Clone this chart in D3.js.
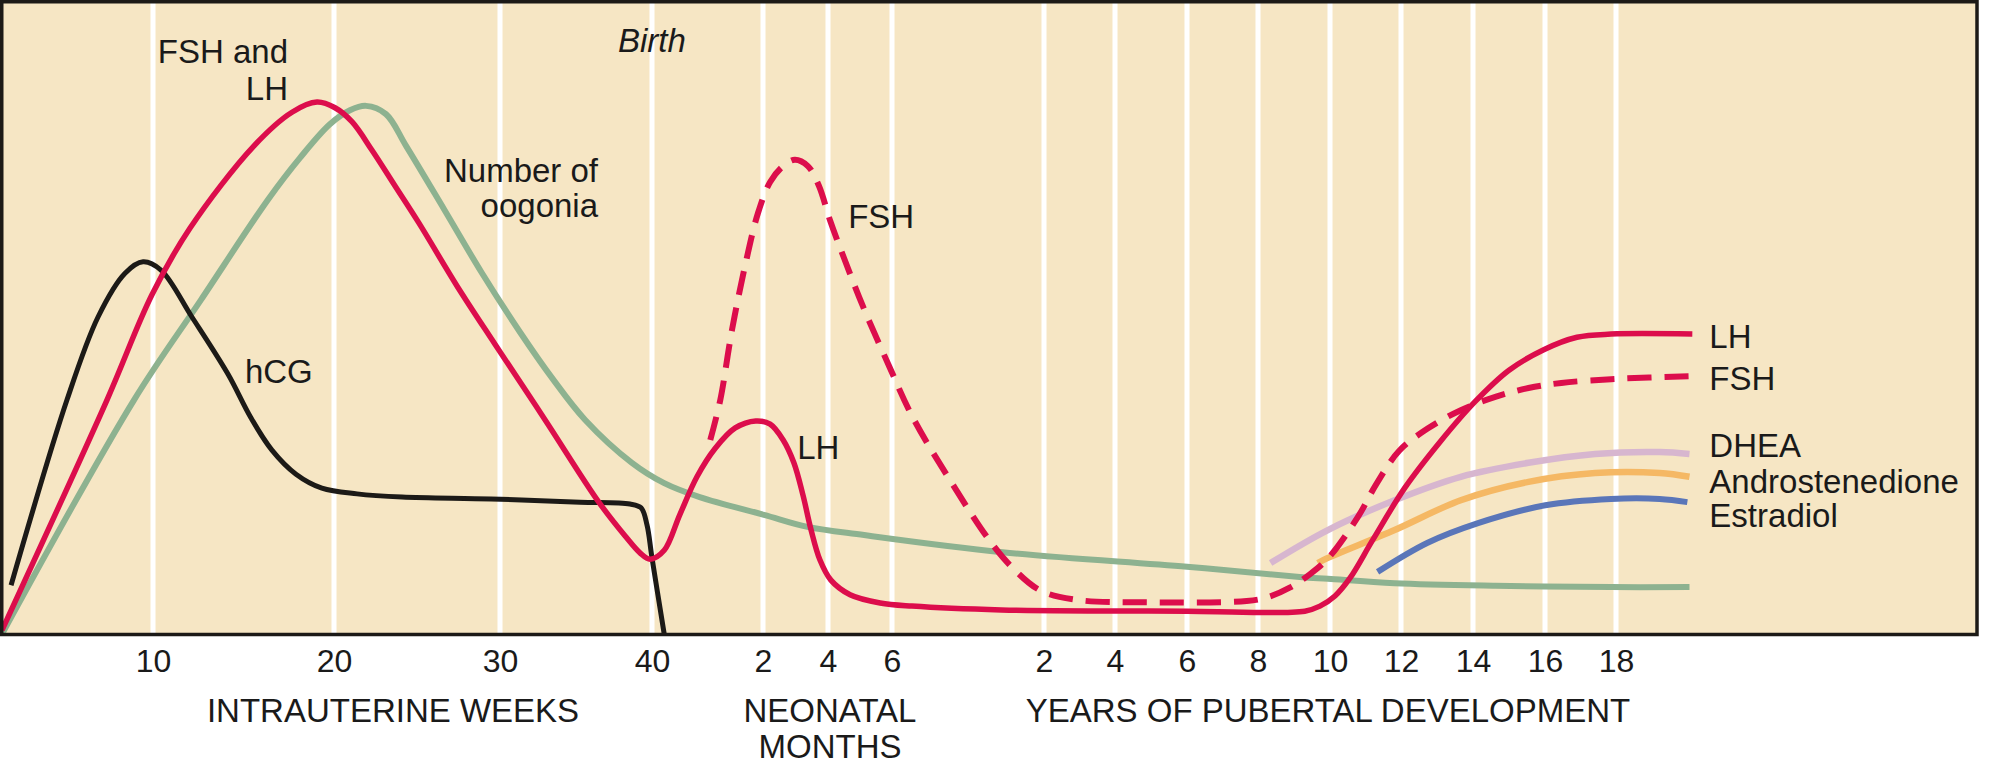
<!DOCTYPE html>
<html>
<head>
<meta charset="utf-8">
<script src="https://cdn.jsdelivr.net/npm/d3@7"></script>
<style>
  body { margin: 0; background: #fff; }
  text { font-family: "Liberation Sans", Arial, sans-serif; fill: #1a1a1a; }
</style>
</head>
<body>
<div id="chart"></div>
<script>
// ages are [unit, value]: "w" intrauterine weeks, "m" neonatal months, "y" years
const weekTicks = [10, 20, 30, 40];
const monthTicks = [2, 4, 6];
const yearTicks = [2, 4, 6, 8, 10, 12, 14, 16, 18];

// relative levels (0-100): [unit, age, level]
const hcg = [["w",0.6,7.7],["w",4.3,36.9],["w",6.36,50],["w",8.15,56.9],["w",9.34,58.7],["w",10.44,57.4],
  ["w",12.15,50],["w",14.14,41],["w",15.41,34.1],["w",16.57,29],["w",17.9,25.2],["w",19.33,23],
  ["w",21.39,22.1],["w",24.1,21.6],["w",29.46,21.3],["w",35.26,20.8],["w",38.55,20.5],["w",39.28,19.9],
  ["w",39.67,17.2],["w",40,12],["m",0.22,0]];

const lh = [["w",0,0.6],["w",6.95,36.9],["w",9.93,53.5],["w",12.04,64],["w",15.58,77],["w",17.68,82.3],
  ["w",19.06,83.9],["w",20.06,83],["w",21.08,80.8],["w",22.29,76.3],["w",23.67,70.7],["w",25.12,64.8],
  ["w",27.41,54.9],["w",29.7,45.7],["w",32.96,33.8],["w",36.5,20.8],["w",38.22,15.5],["w",39.21,12.8],
  ["w",39.87,11.8],["m",0.22,13.2],["m",0.5,18.8],["m",0.81,24.8],["m",1.14,29.3],["m",1.5,32.5],
  ["m",1.87,33.6],["m",2.22,33.1],["m",2.62,30.6],["m",2.95,27],["m",3.23,21.9],["m",3.48,16.4],
  ["m",3.75,11.7],["m",4.09,8.5],["m",4.69,6.2],["m",5.63,4.9],["m",8.37,4.4],["y",1.58,3.8],
  ["y",6,3.6],["y",9.3,3.6],["y",9.72,4.4],["y",10.14,6],["y",10.56,8.8],["y",11.2,14.8],
  ["y",12.1,23],["y",13.1,30.4],["y",14.05,36.6],["y",15.0,41.6],["y",15.95,44.8],["y",16.9,46.8],
  ["y",17.86,47.3],["y",20.15,47.3]];

const fsh = [["m",1.05,30.6],["m",1.23,36.9],["m",1.44,47.9],["m",1.68,58.2],["m",1.91,66.4],["m",2.22,71.3],
  ["m",2.62,73.8],["m",2.98,74.8],["m",3.38,73.8],["m",3.72,70.7],["m",4.06,65.3],["m",4.5,59.3],
  ["m",5.09,51.7],["m",5.88,42.6],["m",8.49,34.1],["m",13.47,23],["y",1.46,14.8],["y",1.68,10.6],
  ["y",1.96,6.9],["y",2.9,5.4],["y",4.97,5],["y",7.68,5.2],["y",8.27,5.8],["y",8.88,7.3],["y",9.41,9.3],
  ["y",9.94,11.9],["y",10.8,18.6],["y",11.3,23.6],["y",11.95,28.9],["y",12.74,32.4],["y",13.66,35.3],
  ["y",14.62,37.4],["y",15.54,38.8],["y",16.46,39.6],["y",17.86,40.2],["y",20.29,40.7]];

const oogonia = [["w",0,0],["w",8.74,36.9],["w",12.65,52.7],["w",16.35,68.5],["w",18.12,75.1],["w",19.77,80.4],
  ["w",20.96,82.6],["w",21.93,83.3],["w",23.13,82],["w",24.34,77],["w",26.63,67],["w",28.92,56.9],
  ["w",31.32,47.6],["w",33.42,40.4],["w",35.59,33.8],["w",38.68,27],["m",0.22,23.8],["m",0.86,21.6],
  ["m",2.03,18.8],["m",3.37,16.9],["m",5.13,15.6],["y",1.59,12.9],["y",6,10.6],["y",9.16,9],["y",9.94,8.7],
  ["y",11.82,8],["y",14.62,7.6],["y",17.86,7.4],["y",20.07,7.4]];

const dhea = [["y",8.35,11.2],["y",9.94,16.4],["y",11.82,21.1],["y",13.66,24.8],["y",15.54,27],
  ["y",17.41,28.4],["y",19.23,28.7],["y",20.07,28.4]];
const androstenedione = [["y",9.66,11.2],["y",9.94,12],["y",11.82,16.4],["y",13.66,21.1],["y",15.54,24],
  ["y",17.41,25.4],["y",19.23,25.4],["y",20.07,24.8]];
const estradiol = [["y",11.34,9.8],["y",12.74,14.4],["y",14.14,17.5],["y",16.01,20.3],["y",17.86,21.3],
  ["y",19.23,21.3],["y",20.01,20.8]];

// text notes placed at [text, unit, age, level, anchor]
const notes = [
  ["FSH and", "w", 17.46, 90.1, "end"], ["LH", "w", 17.46, 84.2, "end"],
  ["Number of", "w", 36.45, 71.3, "end"], ["oogonia", "w", 36.45, 65.8, "end"],
  ["hCG", "w", 15.08, 39.6, "start"], ["FSH", "m", 4.63, 64, "start"], ["LH", "m", 3.05, 27.6, "start"],
  ["LH", "y", 20.63, 45.1, "start"], ["FSH", "y", 20.63, 38.5, "start"], ["DHEA", "y", 20.63, 27.9, "start"],
  ["Androstenedione", "y", 20.63, 22.2, "start"], ["Estradiol", "y", 20.63, 16.9, "start"]
];

(function () {
  const width = 1989, height = 767;
  const axisY = 634, plotRight = 1977;
  // the figure is schematic: each tick sits at its own pixel stop
  const xStops = [2, 153, 334, 500, 652, 763, 828, 892, 1044, 1115, 1187, 1258, 1330, 1401, 1473, 1545, 1616];

  const toWeeks = (u, v) => u === "w" ? v : u === "m" ? 40 + v * 4.345 : 40 + v * 52.18;
  const ticks = [].concat(weekTicks.map(v => ["w", v]), monthTicks.map(v => ["m", v]), yearTicks.map(v => ["y", v]));

  const x = d3.scaleLinear()
    .domain([0].concat(ticks.map(t => toWeeks(t[0], t[1]))))
    .range(xStops);
  const y = d3.scaleLinear().domain([0, 100]).range([axisY, 0]);
  const px = d => x(toWeeks(d[0], d[1]));

  const svg = d3.select("#chart").append("svg")
    .attr("width", width).attr("height", height);

  svg.append("rect").attr("width", width).attr("height", height).attr("fill", "#fff");
  svg.append("rect").attr("x", 0).attr("y", 0).attr("width", plotRight).attr("height", axisY)
    .attr("fill", "#f6e6c4");

  // white vertical gridlines
  svg.append("g").selectAll("line").data(ticks).join("line")
    .attr("x1", d => px(d)).attr("x2", d => px(d))
    .attr("y1", 0).attr("y2", axisY)
    .attr("stroke", "#fff").attr("stroke-width", 5);

  const line = d3.line().x(px).y(d => y(d[2])).curve(d3.curveCatmullRom.alpha(0.5));

  const series = [
    { data: oogonia, color: "#8db290", w: 6 },
    { data: hcg, color: "#1c1a17", w: 5 },
    { data: dhea, color: "#d7b6cf", w: 6.5 },
    { data: androstenedione, color: "#f5b864", w: 6.5 },
    { data: estradiol, color: "#5a76b9", w: 6 },
    { data: fsh, color: "#dc0d4c", w: 6, dash: "24 13" },
    { data: lh, color: "#dc0d4c", w: 5.5 }
  ];

  svg.append("g").selectAll("path").data(series).join("path")
    .attr("d", d => line(d.data))
    .attr("fill", "none")
    .attr("stroke", d => d.color)
    .attr("stroke-width", d => d.w)
    .attr("stroke-linejoin", "round")
    .attr("stroke-dasharray", d => d.dash || null);

  // frame
  svg.append("rect").attr("x", 1.75).attr("y", 1.75)
    .attr("width", plotRight - 1.75).attr("height", axisY + 0.5 - 1.75)
    .attr("fill", "none").attr("stroke", "#1c1a17").attr("stroke-width", 3.5);

  // tick labels through a bottom axis
  const axis = d3.axisBottom(x)
    .tickValues(ticks.map(t => toWeeks(t[0], t[1])))
    .tickFormat((d, i) => ticks[i][1])
    .tickSize(0);
  const ag = svg.append("g").attr("transform", `translate(0,${axisY})`).call(axis);
  ag.select(".domain").remove();
  ag.selectAll("text")
    .attr("y", 38).attr("dy", null)
    .style("font-size", "32px")
    .style("font-family", "'Liberation Sans', Arial, sans-serif")
    .attr("fill", "#1a1a1a");

  // axis titles
  const titles = [["INTRAUTERINE WEEKS", 393, 722], ["NEONATAL", 830, 722], ["MONTHS", 830, 758],
                  ["YEARS OF PUBERTAL DEVELOPMENT", 1328, 722]];
  svg.append("g").selectAll("text").data(titles).join("text")
    .attr("x", d => d[1]).attr("y", d => d[2])
    .attr("text-anchor", "middle")
    .style("font-size", "33px")
    .text(d => d[0]);

  svg.append("g").selectAll("text").data(notes).join("text")
    .attr("x", d => x(toWeeks(d[1], d[2])))
    .attr("y", d => y(d[3]))
    .attr("text-anchor", d => d[4])
    .style("font-size", "33px")
    .text(d => d[0]);

  svg.append("text")
    .attr("x", x(toWeeks("w", 37.76))).attr("y", y(91.8))
    .style("font-size", "33px").style("font-style", "italic")
    .text("Birth");
})();
</script>
</body>
</html>
